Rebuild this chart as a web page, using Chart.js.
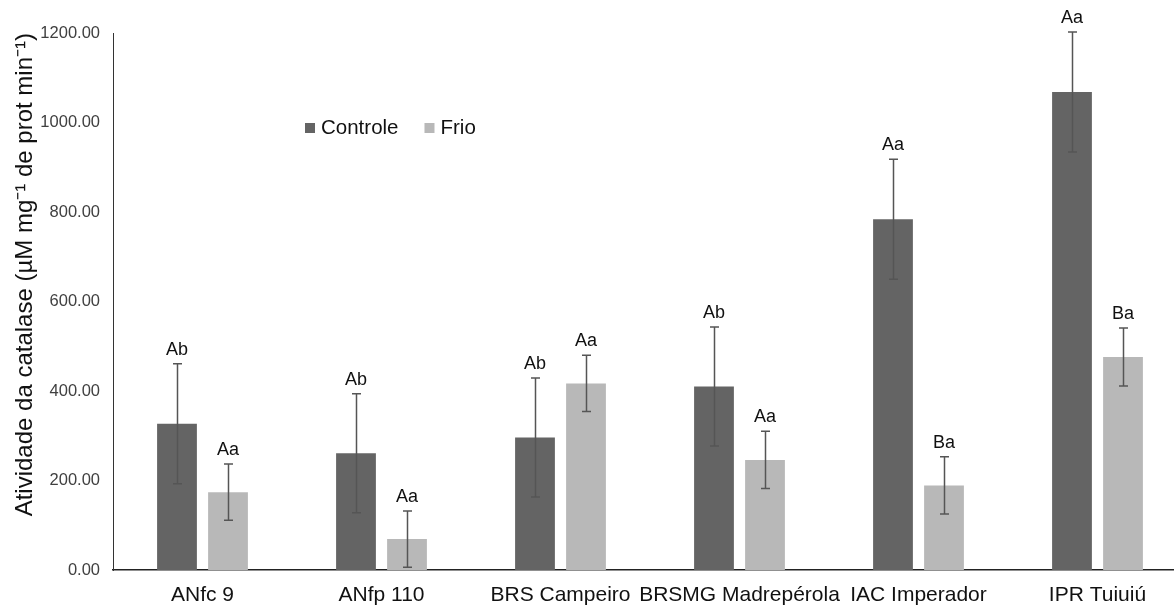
<!DOCTYPE html>
<html><head><meta charset="utf-8">
<script src="https://cdn.jsdelivr.net/npm/chart.js@4.4.1/dist/chart.umd.min.js"></script>
<style>
html,body{margin:0;padding:0;overflow:hidden;background:#fff;}
#wrap{width:1190px;height:606px;position:relative;}
</style></head><body>
<div id="wrap"><canvas id="c" width="1190" height="606"></canvas></div>
<script>
const categorias = ['ANfc 9', 'ANfp 110', 'BRS Campeiro', 'BRSMG Madrepérola', 'IAC Imperador', 'IPR Tuiuiú'];
const controle = [327, 261, 296, 410, 784, 1068];
const frio = [174, 69, 417, 246, 189, 476];
const erroControle = [134, 133, 133, 133, 134, 134];
const erroFrio = [63, 63, 63, 64, 64, 65];
const letrasControle = ['Ab', 'Ab', 'Ab', 'Ab', 'Aa', 'Aa'];
const letrasFrio = ['Aa', 'Aa', 'Aa', 'Aa', 'Ba', 'Ba'];
const yTicks = [0, 200, 400, 600, 800, 1000, 1200];
const tituloY = 'Atividade da catalase (µM mg⁻¹ de prot min⁻¹)';

const FONT = "'Liberation Sans', Arial, sans-serif";
const erros = [erroControle, erroFrio];
const letras = [letrasControle, letrasFrio];

const errorBars = {
  id: 'errorBars',
  afterDatasetsDraw(chart) {
    const ctx = chart.ctx;
    const ys = chart.scales.y;
    ctx.save();
    chart.data.datasets.forEach((ds, di) => {
      const meta = chart.getDatasetMeta(di);
      meta.data.forEach((bar, i) => {
        const v = ds.data[i], e = erros[di][i];
        const yt = ys.getPixelForValue(v + e);
        const yb = ys.getPixelForValue(Math.max(v - e, 0));
        const x = Math.round(bar.x) + 0.5;
        ctx.strokeStyle = '#555555';
        ctx.lineWidth = 1.5;
        ctx.beginPath();
        ctx.moveTo(x, yt); ctx.lineTo(x, yb);
        ctx.moveTo(x - 4.5, yt); ctx.lineTo(x + 4.5, yt);
        ctx.moveTo(x - 4.5, yb); ctx.lineTo(x + 4.5, yb);
        ctx.stroke();
        ctx.fillStyle = '#111111';
        ctx.font = '18px ' + FONT;
        ctx.textAlign = 'center';
        ctx.textBaseline = 'alphabetic';
        ctx.fillText(letras[di][i], bar.x, yt - 9);
      });
    });
    ctx.restore();
  }
};

const customLegend = {
  id: 'customLegend',
  afterDraw(chart) {
    const ctx = chart.ctx;
    ctx.save();
    ctx.font = '20.5px ' + FONT;
    ctx.textBaseline = 'middle';
    ctx.textAlign = 'left';
    let x = 305;
    const y = 128;
    chart.data.datasets.forEach((ds) => {
      ctx.fillStyle = ds.backgroundColor;
      ctx.fillRect(x, y - 5, 10, 10);
      ctx.fillStyle = '#111111';
      ctx.fillText(ds.label, x + 16, y);
      x += 16 + ctx.measureText(ds.label).width + 26;
    });
    ctx.restore();
  }
};

new Chart(document.getElementById('c'), {
  type: 'bar',
  data: {
    labels: categorias,
    datasets: [
      { label: 'Controle', data: controle, backgroundColor: '#646464', borderWidth: 0,
        categoryPercentage: 0.57, barPercentage: 0.78 },
      { label: 'Frio', data: frio, backgroundColor: '#b8b8b8', borderWidth: 0,
        categoryPercentage: 0.57, barPercentage: 0.78 }
    ]
  },
  options: {
    responsive: false,
    devicePixelRatio: 1,
    animation: false,
    layout: { padding: { left: 0, right: 3, top: 33, bottom: 0 } },
    plugins: { legend: { display: false }, tooltip: { enabled: false } },
    scales: {
      x: {
        grid: { display: false, drawTicks: false },
        border: { display: true, color: '#222222', width: 1.5 },
        ticks: { color: '#111111', font: { family: FONT, size: 21 }, padding: 13,
                 maxRotation: 0, minRotation: 0, autoSkip: false },
        afterFit(s) { s.height = 36; }
      },
      y: {
        min: 0, max: 1200,
        afterBuildTicks(s) { s.ticks = yTicks.map(v => ({ value: v })); },
        grid: { display: false, drawTicks: false },
        border: { display: true, color: '#333333', width: 1 },
        ticks: { color: '#404040', font: { family: FONT, size: 16.5 }, padding: 13,
                 callback: v => Number(v).toFixed(2) },
        title: { display: true, text: tituloY, align: 'end', color: '#111111',
                 font: { family: FONT, size: 24 }, padding: { top: 11, bottom: 0 } },
        afterFit(s) { s.width = 113; }
      }
    }
  },
  plugins: [errorBars, customLegend]
});
</script>
</body></html>
